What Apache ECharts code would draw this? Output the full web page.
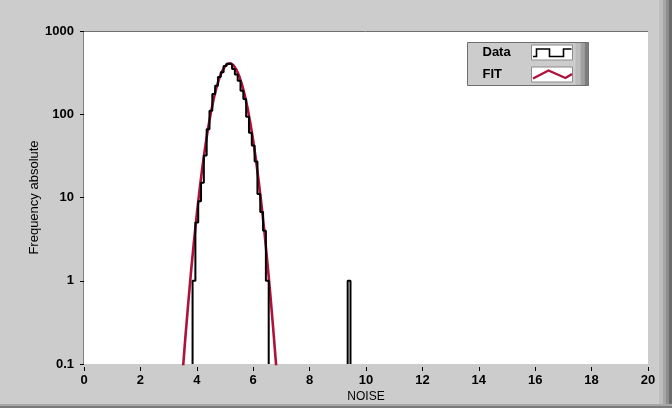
<!DOCTYPE html>
<html>
<head>
<meta charset="utf-8">
<script src="https://cdn.jsdelivr.net/npm/echarts@6/dist/echarts.min.js"></script>
<style>
html,body{margin:0;padding:0;background:#cccccc;}
#chart{width:672px;height:408px;}
</style>
</head>
<body>
<div id="chart"></div>
<script>
// ---- data ----
const binCenters = [3.9,4.0,4.1,4.2,4.3,4.4,4.5,4.6,4.7,4.8,4.9,5.0,5.1,5.2,5.3,5.4,5.5,5.6,5.7,5.8,5.9,6.0,6.1,6.2,6.3,6.4,6.5];
const binCounts  = [1,5,9,15,32,66,110,175,220,280,320,380,405,400,350,300,253,192,152,93,60,42,27,11,6.7,4,1];
const outlierCenters = [9.4];
const outlierCounts  = [1];
const binWidth = 0.1;
const fitX = [3.4,3.5,3.6,3.7,3.8,3.9,4.0,4.1,4.2,4.3,4.4,4.5,4.6,4.7,4.8,4.9,5.0,5.1,5.2,5.3,5.4,5.5,5.6,5.7,5.8,5.9,6.0,6.1,6.2,6.3,6.4,6.5,6.6,6.7,6.8,6.9];
const fitY = [0.028,0.081,0.219,0.555,1.33,3.0,6.3,12.5,23.4,41,68,105,154,211,272,330,377,405,408,388,346,290,229,170,119,78,48,28,15.2,7.8,3.8,1.7,0.73,0.29,0.11,0.039];
const xTicks = [0,2,4,6,8,10,12,14,16,18,20];
const yTicks = [0.1,1,10,100,1000];

const FLOOR = yTicks[0];
function histLine(centers, counts){
  const pts = [];
  const h = binWidth/2;
  pts.push([+(centers[0]-h).toFixed(3), FLOOR]);
  for (let i=0;i<centers.length;i++){
    pts.push([+(centers[i]-h).toFixed(3), counts[i]]);
    pts.push([+(centers[i]+h).toFixed(3), counts[i]]);
  }
  pts.push([+(centers[centers.length-1]+h).toFixed(3), FLOOR]);
  return pts;
}
const dataLine = histLine(binCenters, binCounts).concat([[null,null]], histLine(outlierCenters, outlierCounts));
const fitLine = fitX.map((x,i)=>[x, fitY[i]]);

const chart = echarts.init(document.getElementById('chart'), null, {renderer:'canvas'});
const FONT = 'Liberation Sans';
const legendX = 467, legendY = 42;
chart.setOption({
  backgroundColor:'#cccccc',
  animation:false,
  grid:{left:84, right:24, top:31, bottom:43, show:true, backgroundColor:'#ffffff', borderWidth:0},
  xAxis:{
    type:'value', min:xTicks[0], max:xTicks[xTicks.length-1], interval:2,
    name:'NOISE', nameLocation:'middle', nameGap:24, nameMoveOverlap:false,
    nameTextStyle:{fontFamily:FONT, fontSize:12, color:'#000'},
    axisLine:{show:false}, offset:3,
    axisTick:{show:true, length:4, lineStyle:{color:'#000'}},
    axisLabel:{fontFamily:FONT, fontSize:13, fontWeight:'bold', color:'#000', margin:7},
    splitLine:{show:false}
  },
  yAxis:{
    type:'log', logBase:10, min:yTicks[0], max:yTicks[yTicks.length-1],
    name:'Frequency absolute', nameLocation:'middle', nameGap:41, offset:2, nameMoveOverlap:false,
    nameTextStyle:{fontFamily:FONT, fontSize:13, color:'#000'},
    axisLine:{show:false},
    axisTick:{show:true, length:4, lineStyle:{color:'#000'}},
    axisLabel:{fontFamily:FONT, fontSize:13, fontWeight:'bold', color:'#000', margin:8,
      formatter:(v)=>String(+v.toPrecision(3))},
    splitLine:{show:false}, minorTick:{show:false}
  },
  series:[
    {name:'FIT', type:'line', data:fitLine, showSymbol:false, symbol:'none', clip:true,
     lineStyle:{color:'#b0103c', width:2.6}, z:2},
    {name:'Data', type:'line', data:dataLine, showSymbol:false, symbol:'none', clip:true, connectNulls:false,
     lineStyle:{color:'#000000', width:2}, z:3}
  ],
  graphic:[
    // frame lines of plot area (top and left)
    {type:'line', shape:{x1:83, y1:31.5, x2:648, y2:31.5}, style:{stroke:'#6e6e6e', lineWidth:1}, silent:true},
    {type:'line', shape:{x1:83.5, y1:31, x2:83.5, y2:365}, style:{stroke:'#808080', lineWidth:1}, silent:true},
    // right bevel of the window
    {type:'rect', shape:{x:659, y:0, width:4, height:408}, style:{fill:'#bdbdbd'}},
    {type:'rect', shape:{x:663, y:0, width:3, height:408}, style:{fill:'#a6a6a6'}},
    {type:'rect', shape:{x:666, y:0, width:3, height:408}, style:{fill:'#8c8c8c'}},
    {type:'rect', shape:{x:669, y:0, width:3, height:408}, style:{fill:'#6a6a6a'}},
    {type:'rect', shape:{x:0, y:404, width:672, height:2}, style:{fill:'#a6a6a6'}},
    {type:'rect', shape:{x:0, y:406, width:672, height:2}, style:{fill:'#7a7a7a'}},
    // legend
    {type:'group', left:legendX, top:legendY, children:[
      {type:'rect', shape:{x:0, y:0, width:121, height:43}, style:{fill:'#cccccc', stroke:'#6e6e6e', lineWidth:1}},
      {type:'rect', shape:{x:108, y:0.5, width:5, height:42}, style:{fill:'#bcbcbc'}},
      {type:'rect', shape:{x:113, y:0.5, width:4, height:42}, style:{fill:'#a0a0a0'}},
      {type:'rect', shape:{x:117, y:0.5, width:4, height:42}, style:{fill:'#7e7e7e'}},
      {type:'text', x:15, y:10, style:{text:'Data', font:'bold 13px "Liberation Sans"', fill:'#000', textVerticalAlign:'middle'}},
      {type:'text', x:15, y:32, style:{text:'FIT', font:'bold 13px "Liberation Sans"', fill:'#000', textVerticalAlign:'middle'}},
      {type:'rect', shape:{x:64, y:2.5, width:41, height:15}, style:{fill:'#ffffff', stroke:'#8a8a8a', lineWidth:1}},
      {type:'rect', shape:{x:64, y:24.5, width:41, height:15}, style:{fill:'#ffffff', stroke:'#8a8a8a', lineWidth:1}},
      {type:'polyline', shape:{points:[[65.5,14],[69,14],[69,6.5],[82,6.5],[82,14],[96,14],[96,6.5],[104,6.5]]}, style:{stroke:'#000', lineWidth:1.6, fill:null}},
      {type:'polyline', shape:{points:[[65.5,36],[81,28],[98,35.5],[104.5,31.5]]}, style:{stroke:'#b0103c', lineWidth:2.4, fill:null}}
    ]}
  ]
});
</script>
</body>
</html>
